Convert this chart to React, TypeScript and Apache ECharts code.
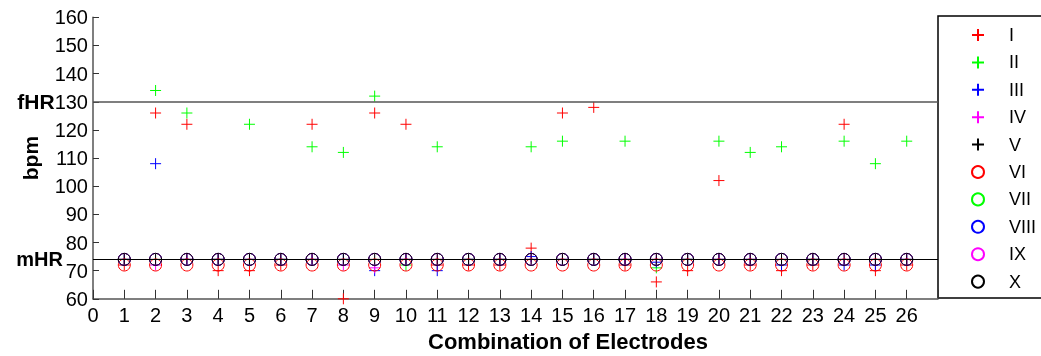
import React, { useEffect, useRef } from "react";
import * as echarts from "echarts";

const categories = [1, 2, 3, 4, 5, 6, 7, 8, 9, 10, 11, 12, 13, 14, 15, 16, 17, 18, 19, 20, 21, 22, 23, 24, 25, 26];
const seriesNames = ["I", "II", "III", "IV", "V", "VI", "VII", "VIII", "IX", "X"];
const valuesI = [72, 126, 122, 70, 70, 72, 122, 60, 126, 122, 72, 72, 72, 78, 126, 128, 72, 66, 70, 102, 72, 70, 72, 122, 70, 72];
const valuesII = [74, 134, 126, 74, 122, 74, 114, 112, 132, 72, 114, 74, 74, 114, 116, 74, 116, 71, 74, 116, 112, 114, 74, 116, 108, 116];
const valuesIII = [74, 108, 74, 74, 74, 74, 74, 74, 70, 74, 70, 74, 74, 75, 74, 74, 74, 73, 74, 74, 74, 72, 74, 72, 72, 74];
const valuesIV = [74, 72, 74, 74, 74, 74, 74, 72, 71, 74, 74, 74, 74, 74, 74, 74, 74, 74, 74, 74, 74, 74, 74, 74, 74, 74];
const valuesV = [74, 74, 74, 74, 74, 74, 74, 74, 74, 74, 74, 74, 74, 74, 74, 74, 74, 74, 74, 74, 74, 74, 74, 74, 74, 74];
const valuesVI = [72, 72, 72, 72, 72, 72, 72, 72, 72, 72, 72, 72, 72, 72, 72, 72, 72, 72, 72, 72, 72, 72, 72, 72, 72, 72];
const valuesVII = [74, 74, 74, 74, 74, 74, 74, 74, 74, 74, 74, 74, 74, 74, 74, 74, 74, 74, 74, 74, 74, 74, 74, 74, 74, 74];
const valuesVIII = [74, 74, 74, 74, 74, 74, 74, 74, 74, 74, 74, 74, 74, 74, 74, 74, 74, 74, 74, 74, 74, 74, 74, 74, 74, 74];
const valuesIX = [74, 74, 74, 74, 74, 74, 74, 74, 74, 74, 74, 74, 74, 74, 74, 74, 74, 74, 74, 74, 74, 74, 74, 74, 74, 74];
const valuesX = [74, 74, 74, 74, 74, 74, 74, 74, 74, 74, 74, 74, 74, 74, 74, 74, 74, 74, 74, 74, 74, 74, 74, 74, 74, 74];
const fHR = 130;
const mHR = 74;

const allValues = [valuesI, valuesII, valuesIII, valuesIV, valuesV, valuesVI, valuesVII, valuesVIII, valuesIX, valuesX];
const colors = ["#ff0000", "#00ff00", "#0000ff", "#ff00ff", "#000000", "#ff0000", "#00ff00", "#0000ff", "#ff00ff", "#000000"];
const PLUS = "path://M0,5L10,5M5,0L5,10";
const FONT = "Liberation Sans";

export default function App() {
  const ref = useRef<HTMLDivElement>(null);
  useEffect(() => {
    if (!ref.current) return;
    const chart = echarts.init(ref.current, null, { renderer: "svg" });
    const series: any[] = allValues.map((vals, i) => {
      const isPlus = i < 5;
      const s: any = {
        name: seriesNames[i],
        type: "scatter",
        data: categories.map((c, j) => [c, vals[j]]),
        symbol: isPlus ? PLUS : "circle",
        symbolSize: isPlus ? 11 : 12,
        itemStyle: {
          color: isPlus ? colors[i] : "rgba(0,0,0,0)",
          borderColor: colors[i],
          borderWidth: 1,
          opacity: 1,
        },
        emphasis: { disabled: true },
      };
      if (i === 0) {
        s.markLine = {
          silent: true,
          symbol: "none",
          animation: false,
          data: [
            {
              yAxis: fHR,
              lineStyle: { color: "#555", width: 1.5, type: "solid" },
              label: { show: false },
            },
            {
              yAxis: mHR,
              lineStyle: { color: "#000", width: 1, type: "solid" },
              label: {
                show: true,
                position: "start",
                formatter: "mHR",
                distance: 30,
                color: "#000",
                fontFamily: FONT,
                fontWeight: "bold",
                fontSize: 20,
              },
            },
          ],
        };
      }
      return s;
    });
    chart.setOption({
      animation: false,
      textStyle: { fontFamily: FONT },
      grid: { left: 93, top: 17.3, width: 845, height: 281.5, containLabel: false, outerBoundsMode: "none" },
      xAxis: {
        type: "value",
        min: 0,
        max: 27,
        interval: 1,
        axisLine: { show: true, lineStyle: { color: "#555", width: 1.5 } },
        axisTick: { show: true, inside: true, length: 9, lineStyle: { color: "#333", width: 1 } },
        splitLine: { show: false },
        axisLabel: {
          color: "#000",
          fontSize: 20,
          fontFamily: FONT,
          margin: 6,
          formatter: (v: number) => (v <= 26 ? String(v) : ""),
        },
      },
      yAxis: {
        type: "value",
        min: 60,
        max: 160,
        interval: 10,
        name: "bpm",
        nameLocation: "middle",
        nameGap: 52,
        nameMoveOverlap: false,
        nameTextStyle: { color: "#000", fontSize: 21, fontWeight: "bold", fontFamily: FONT },
        axisLine: { show: true, lineStyle: { color: "#555", width: 1.5 } },
        axisTick: { show: true, inside: true, length: 6, lineStyle: { color: "#333", width: 1 } },
        splitLine: { show: false },
        axisLabel: {
          color: "#000",
          fontSize: 20,
          fontFamily: FONT,
          margin: 5,
          formatter: (v: number) => (v === fHR ? "{b|fHR}" + v : String(v)),
          rich: {
            b: { fontWeight: "bold", fontSize: 21, fontFamily: FONT, color: "#000" },
          },
        },
      },
      legend: {
        orient: "vertical",
        left: 971,
        top: 26,
        itemWidth: 12,
        itemHeight: 12,
        itemGap: 9.4,
        padding: 0,
        data: seriesNames,
        textStyle: { color: "#000", fontSize: 18, fontFamily: FONT, padding: [0, 0, 0, 20], lineHeight: 12 },
        selectedMode: false,
      },
      graphic: [
        {
          type: "rect",
          shape: { x: 938, y: 16, width: 120, height: 282 },
          style: { fill: "#fff", stroke: "#000", lineWidth: 1.5 },
          z: 0,
        },
        {
          type: "text",
          x: 568,
          y: 341,
          style: {
            text: "Combination of Electrodes",
            fill: "#000",
            font: "bold 22px 'Liberation Sans'",
            align: "center",
            verticalAlign: "middle",
          },
        },
      ],
      series,
    });
    return () => chart.dispose();
  }, []);
  return <div ref={ref} style={{ position: "fixed", left: 0, top: 0, width: 1041, height: 356 }} />;
}
